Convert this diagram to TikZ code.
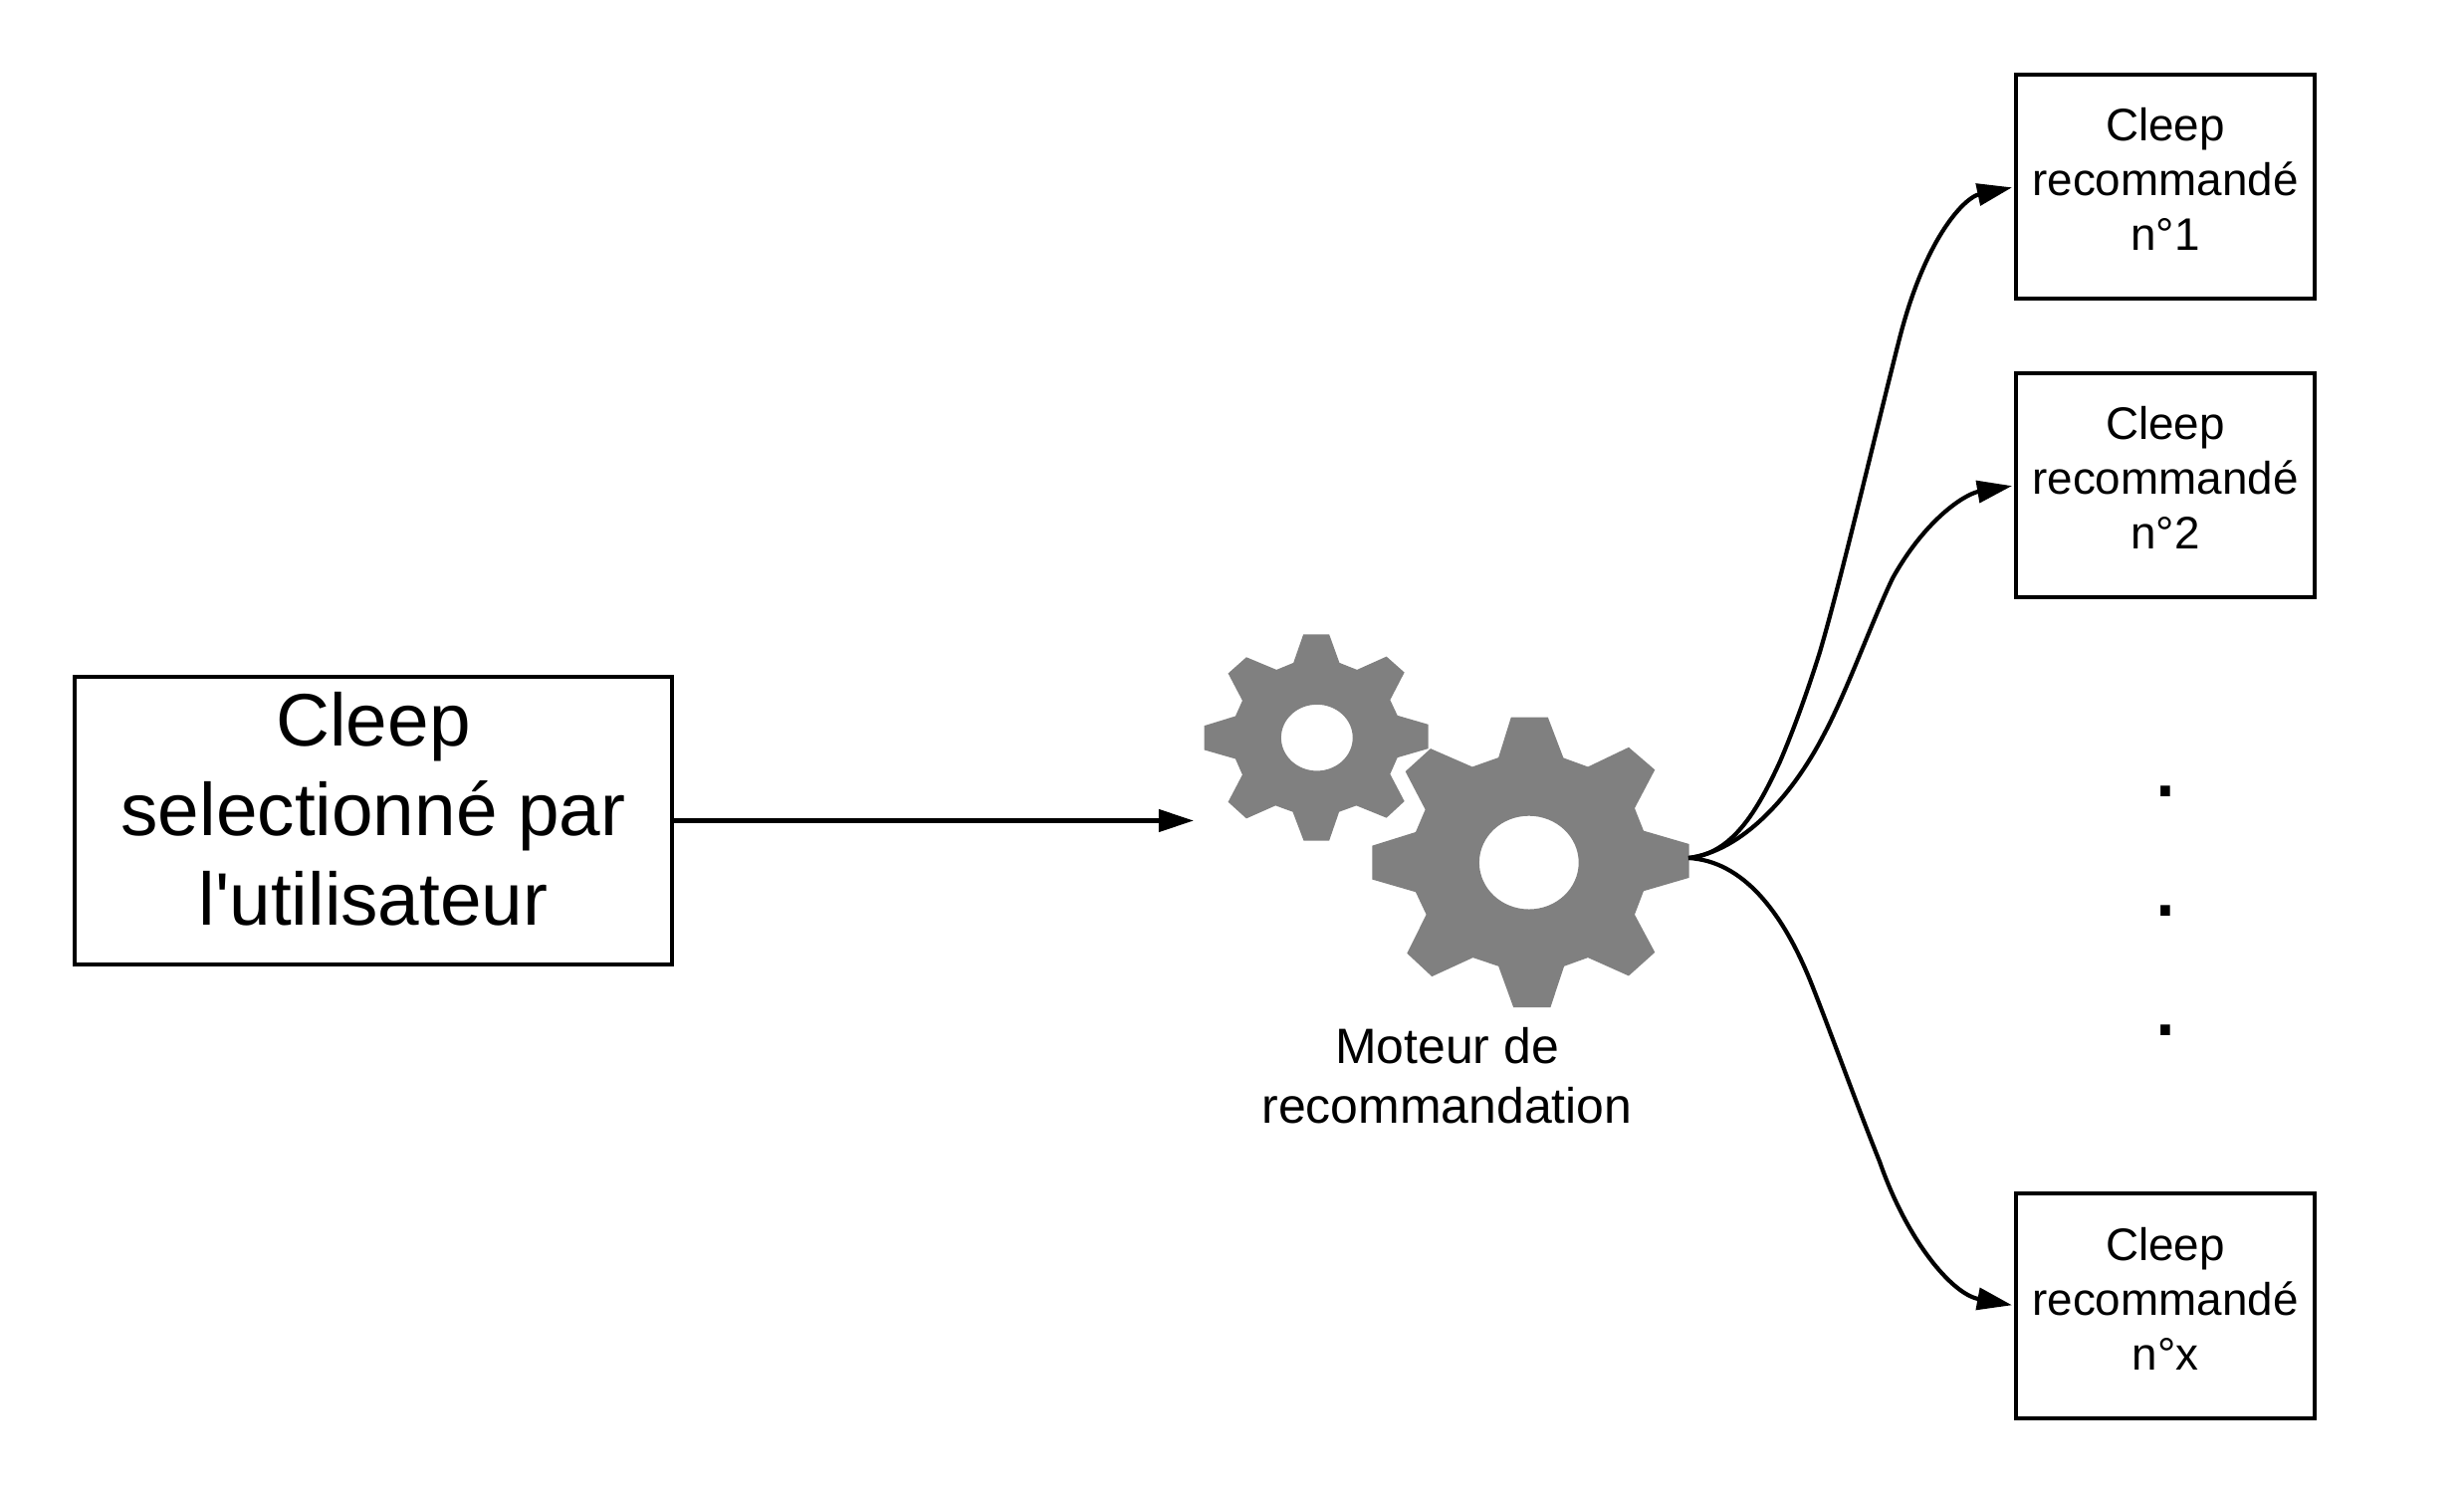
\documentclass[tikz,border=0pt]{standalone}
\usepackage{fontspec}
\newfontfamily\libsans{Liberation Sans}
\usetikzlibrary{arrows.meta}
\newcommand{\pushup}[1]{\rule[-#1cm]{0pt}{0pt}}
\tikzset{
  smallbox/.style={draw=black,line width=1.14pt,fill=white,outer sep=0pt,inner sep=0pt,
    minimum width=3cm,minimum height=2.25cm,align=center,
    font=\libsans\fontsize{13.03pt}{15.65pt}\selectfont},
  bigbox/.style={draw=black,line width=1.14pt,fill=white,outer sep=0pt,inner sep=0pt,
    minimum width=6cm,minimum height=2.88cm,align=center,
    font=\libsans\fontsize{21.25pt}{25.6pt}\selectfont},
  gearlabel/.style={inner sep=0pt,outer sep=0pt,align=center,
    font=\libsans\fontsize{14.2pt}{17.07pt}\selectfont},
  dotcol/.style={inner sep=0pt,outer sep=0pt,align=center,
    font=\libsans\fontsize{28.45pt}{34.14pt}\selectfont},
  link/.style={line width=1.2pt,draw=black,-{Triangle[length=0.35cm,width=0.22cm]}},
  gearfill/.style={fill=gearcol,even odd rule,draw=none}
}
\definecolor{gearcol}{HTML}{808080}
\begin{document}
\begin{tikzpicture}[x=0.01cm,y=-0.01cm]
\useasboundingbox (0,0) rectangle (2475,1500);
\fill[white] (0,0) rectangle (2475,1500);

% gears: zoom coordinates, 3 units per pixel
\begin{scope}[shift={(1200,620)},x=0.003333cm,y=-0.003333cm]
\fill[gearfill] (328,52)--(406,52)--(437,138)--(490,159)--(579,119)--(633,167)--(590,250)--(612,297)--(705,324)--(705,397)--(612,424)--(590,474)--(633,556)--(579,606)--(488,569)--(436,588)--(406,675)--(329,675)--(296,588)--(244,569)--(156,608)--(101,558)--(144,476)--(123,428)--(29,401)--(29,328)--(123,299)--(144,252)--(101,170)--(156,121)--(247,159)--(298,138)--cycle
 (369,364) ellipse [x radius=108,y radius=100];
\fill[gearfill] (955,302)--(1066,302)--(1113,425)--(1187,452)--(1310,393)--(1389,461)--(1328,577)--(1355,645)--(1492,685)--(1492,787)--(1355,827)--(1328,898)--(1389,1012)--(1310,1083)--(1187,1028)--(1115,1054)--(1074,1178)--(962,1178)--(917,1054)--(840,1028)--(716,1085)--(641,1015)--(699,898)--(667,830)--(536,792)--(536,690)--(667,649)--(696,581)--(636,466)--(712,397)--(838,452)--(917,424)--cycle
 (1009,741) ellipse [x radius=150,y radius=141];
\end{scope}

\node[bigbox] (sel) at (375,824.5) {Cleep\\selectionné par\\l'utilisateur\pushup{0.25}};
\node[smallbox] (r1) at (2175,187.5) {Cleep\\recommandé\\n°1\pushup{0.15}};
\node[smallbox] (r2) at (2175,487.5) {Cleep\\recommandé\\n°2\pushup{0.15}};
\node[smallbox] (rx) at (2175,1312) {Cleep\\recommandé\\n°x\pushup{0.15}};
\node[dotcol] (dots) at (2175,915) {.\\.\\.};
\node[gearlabel,anchor=north] (motor) at (1453.5,1032) {Moteur de\\recommandation};

\coordinate (gearin) at (1199,824.5);
\coordinate (gearout) at (1696,862);

\draw[link] (sel.east) -- (gearin);
\draw[link,shorten >=0.04cm] (gearout) .. controls (1740,858) and (1765,815) .. (1788,765)
  .. controls (1803,730) and (1817,690) .. (1828,655)
  .. controls (1850,580) and (1885,430) .. (1908,340)
  .. controls (1935,235) and (1975,198) .. (r1.west);
\draw[link,shorten >=0.04cm] (gearout) .. controls (1750,855) and (1800,800) .. (1832,738)
  .. controls (1855,695) and (1880,625) .. (1901,581)
  .. controls (1935,520) and (1975,496) .. (r2.west);
\draw[link,shorten >=0.04cm] (gearout) .. controls (1750,865) and (1790,915) .. (1819,987)
  .. controls (1840,1040) and (1865,1110) .. (1888,1167)
  .. controls (1915,1245) and (1960,1300) .. (rx.west);
\end{tikzpicture}
\end{document}
